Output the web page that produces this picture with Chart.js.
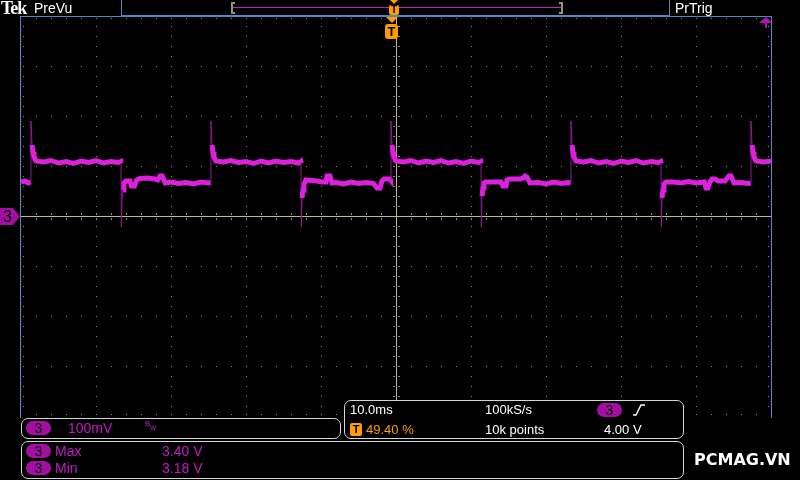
<!DOCTYPE html>
<html>
<head>
<meta charset="utf-8">
<script src="https://cdn.jsdelivr.net/npm/chart.js@4.4.1/dist/chart.umd.min.js"></script>
<style>
  body { margin: 0; background: #000; }
  #wrap { position: relative; width: 800px; height: 480px; overflow: hidden; background: #000; font-family: 'Liberation Sans', Arial, sans-serif; }
  #scope { position: absolute; left: 0; top: 0; }
  .t { position: absolute; white-space: nowrap; color: #fff; font-size: 14px; line-height: 16px; height: 16px; }
  .p { color: #c41cc4; }
  .o { color: #ff9c00; }
  .pill { position: absolute; width: 25px; height: 14px; border-radius: 7px; background: #a30fa3; color: #000; font-size: 14px; line-height: 14px; text-align: center; }
  .panel { position: absolute; border: 1px solid #d6d6d6; border-radius: 7px; background: #000; box-sizing: border-box; }
  .bline { position: absolute; background: #5088c8; }
</style>
</head>
<body>
<div id="wrap">
  <canvas id="scope" width="800" height="480"></canvas>

  <!-- top bar -->
  <div class="t" style="left:1px;top:-1px;font-family:'Liberation Serif',serif;font-weight:bold;font-size:18px;line-height:18px;letter-spacing:-1px;">Tek</div>
  <div class="t" style="left:34px;top:0px;font-size:14px;">PreVu</div>
  <div style="position:absolute;left:121px;top:0;width:549px;height:16px;border:1px solid #5088c8;border-top:none;box-sizing:border-box;"></div>
  <div style="position:absolute;left:233px;top:7px;width:328px;height:1px;background:#c020c0;"></div>
  <div style="position:absolute;left:231px;top:2px;height:12px;border:2px solid #9a9178;border-right:none;box-sizing:border-box;width:4px;"></div>
  <div style="position:absolute;left:559px;top:2px;height:12px;border:2px solid #9a9178;border-left:none;box-sizing:border-box;width:4px;"></div>
  <div style="position:absolute;left:390px;top:0;width:0;height:0;border-left:4px solid transparent;border-right:4px solid transparent;border-top:4px solid #ff9c00;"></div>
  <div style="position:absolute;left:389px;top:5px;width:10px;height:10px;border-radius:2px;background:#ff9c00;color:#000;font-size:10px;line-height:10px;text-align:center;font-weight:bold;">T</div>
  <div class="t" style="left:675px;top:0px;font-size:14px;">PrTrig</div>

  <!-- graticule frame -->
  <div class="bline" style="left:20px;top:16px;width:752px;height:1px;"></div>
  <div class="bline" style="left:20px;top:16px;width:1px;height:402px;"></div>
  <div class="bline" style="left:771px;top:16px;width:1px;height:402px;"></div>

  <!-- trigger position marker -->
  <div style="position:absolute;left:386px;top:17px;width:0;height:0;border-left:6px solid transparent;border-right:6px solid transparent;border-top:6px solid #ff9c00;"></div>
  <div style="position:absolute;left:385px;top:24px;width:13px;height:15px;border-radius:3px;background:#ff9c00;color:#000;font-size:13px;line-height:15px;text-align:center;font-weight:bold;">T</div>

  <!-- trigger level arrow -->
  <div style="position:absolute;left:759px;top:17px;width:0;height:0;border-left:7px solid transparent;border-right:7px solid transparent;border-bottom:6px solid #b014b0;"></div>
  <div style="position:absolute;left:765px;top:22px;width:2px;height:6px;background:#b014b0;"></div>

  <!-- channel 3 marker -->
  <div style="position:absolute;left:0;top:208px;width:20px;height:17px;background:#a30fa3;clip-path:polygon(0 0,65% 0,100% 50%,65% 100%,0 100%);"></div>
  <div class="t" style="left:3px;top:208px;color:#000;font-size:16px;line-height:17px;">3</div>

  <!-- channel panel -->
  <div class="panel" style="left:21px;top:418px;width:320px;height:21px;"></div>
  <div class="pill" style="left:26px;top:421px;">3</div>
  <div class="t p" style="left:68px;top:420px;">100mV</div>
  <div class="t p" style="left:145px;top:420px;font-size:8px;line-height:8px;">B<span style="position:relative;top:4px;">w</span></div>

  <!-- timebase panel -->
  <div class="panel" style="left:344px;top:400px;width:340px;height:39px;"></div>
  <div class="t" style="left:350px;top:402px;font-size:13px;">10.0ms</div>
  <div class="t" style="left:485px;top:402px;font-size:13px;">100kS/s</div>
  <div class="pill" style="left:597px;top:403px;">3</div>
  <svg style="position:absolute;left:632px;top:403px;" width="14" height="14"><polyline points="1,12 4,12 9,2 13,2" fill="none" stroke="#fff" stroke-width="1.4"/></svg>
  <div style="position:absolute;left:350px;top:423px;width:12px;height:13px;border-radius:2px;background:#ff9c00;color:#000;font-size:11px;line-height:13px;text-align:center;font-weight:bold;">T</div>
  <div class="t o" style="left:366px;top:422px;font-size:13px;">49.40 %</div>
  <div class="t" style="left:485px;top:422px;font-size:13px;">10k points</div>
  <div class="t" style="left:604px;top:422px;font-size:13px;">4.00 V</div>

  <!-- measurement panel -->
  <div class="panel" style="left:21px;top:441px;width:663px;height:38px;"></div>
  <div class="pill" style="left:26px;top:444px;">3</div>
  <div class="t p" style="left:55px;top:443px;">Max</div>
  <div class="t p" style="left:162px;top:443px;">3.40 V</div>
  <div class="pill" style="left:26px;top:461px;">3</div>
  <div class="t p" style="left:55px;top:460px;">Min</div>
  <div class="t p" style="left:162px;top:460px;">3.18 V</div>

  <div class="t" style="left:694px;top:450px;font-family:'DejaVu Sans',sans-serif;font-weight:bold;font-size:16px;line-height:20px;height:20px;">PCMAG.VN</div>
</div>

<script>
// Channel 3 trace (time in ms, level in volts)
const timeMs = [
  -50.00, -49.50, -49.00, -48.70, -48.67, -48.53, -48.40, -48.27, -48.00,
  -47.00, -46.00, -45.00, -44.00, -43.00, -42.00, -41.00, -40.00, -39.00, -38.00, -37.00, -36.70,
  -36.67, -36.62, -36.53, -36.40, -36.27, -36.00, -35.47, -35.27, -34.87, -34.57, -34.17, -33.17,
  -32.17, -31.77, -31.47, -31.17, -30.77, -30.00, -29.00, -28.00, -27.00, -26.00, -25.00, -24.70,
  -24.67, -24.53, -24.40, -24.27, -24.00,
  -23.00, -22.00, -21.00, -20.00, -19.00, -18.00, -17.00, -16.00, -15.00, -14.00, -13.00, -12.70,
  -12.67, -12.62, -12.53, -12.40, -12.27, -12.00, -10.50, -9.87, -9.33, -9.20, -8.80, -8.53,
  -8.00, -7.00, -6.00, -5.00, -4.00, -3.00, -2.53, -2.13, -1.87, -1.60, -0.80, -0.70,
  -0.67, -0.53, -0.40, -0.27, 0.00,
  1.00, 2.00, 3.00, 4.00, 5.00, 6.00, 7.00, 8.00, 9.00, 10.00, 11.00, 11.30,
  11.33, 11.38, 11.47, 11.60, 11.73, 12.00, 14.00, 14.27, 14.67, 14.80, 15.20, 16.53,
  16.93, 17.20, 17.47, 17.87, 19.00, 20.00, 21.00, 22.00, 23.00, 23.30,
  23.33, 23.47, 23.60, 23.73, 24.00,
  25.00, 26.00, 27.00, 28.00, 29.00, 30.00, 31.00, 32.00, 33.00, 34.00, 35.00, 35.30,
  35.33, 35.38, 35.47, 35.60, 35.73, 36.00, 37.00, 38.00, 39.00, 40.00, 41.10, 41.33,
  41.60, 41.87, 42.13, 42.53, 42.93, 43.87, 44.40, 44.67, 45.07, 46.00, 47.00, 47.30,
  47.33, 47.47, 47.60, 47.73, 48.00, 49.00, 50.00
];
const ch3Volts = [
  3.268, 3.270, 3.266, 3.268, 3.390, 3.342, 3.328, 3.318, 3.310,
  3.308, 3.311, 3.306, 3.309, 3.305, 3.310, 3.307, 3.311, 3.306, 3.309, 3.307, 3.309,
  3.306, 3.178, 3.232, 3.252, 3.266, 3.270, 3.270, 3.260, 3.260, 3.272, 3.275, 3.276,
  3.274, 3.272, 3.280, 3.280, 3.266, 3.268, 3.265, 3.267, 3.264, 3.268, 3.266, 3.267,
  3.390, 3.342, 3.328, 3.318, 3.310,
  3.308, 3.311, 3.307, 3.309, 3.305, 3.310, 3.306, 3.310, 3.307, 3.309, 3.306, 3.309,
  3.306, 3.178, 3.236, 3.252, 3.264, 3.272, 3.270, 3.268, 3.268, 3.280, 3.280, 3.266,
  3.267, 3.264, 3.268, 3.265, 3.267, 3.265, 3.256, 3.256, 3.270, 3.274, 3.274, 3.272,
  3.390, 3.342, 3.328, 3.318, 3.310,
  3.308, 3.311, 3.306, 3.310, 3.307, 3.311, 3.306, 3.309, 3.305, 3.310, 3.307, 3.309,
  3.306, 3.178, 3.240, 3.256, 3.266, 3.268, 3.268, 3.260, 3.260, 3.272, 3.274, 3.274,
  3.276, 3.280, 3.278, 3.266, 3.267, 3.264, 3.268, 3.265, 3.267, 3.266,
  3.390, 3.342, 3.328, 3.318, 3.310,
  3.308, 3.311, 3.306, 3.309, 3.305, 3.310, 3.307, 3.311, 3.306, 3.309, 3.307, 3.309,
  3.306, 3.178, 3.236, 3.252, 3.264, 3.268, 3.268, 3.266, 3.269, 3.266, 3.268, 3.256,
  3.256, 3.268, 3.274, 3.274, 3.270, 3.270, 3.280, 3.280, 3.266, 3.267, 3.265, 3.266,
  3.390, 3.342, 3.328, 3.318, 3.310, 3.308, 3.310
];

// graticule: 10 ms/div across, 100 mV/div up, centred on 3.20 V
const xDivs = [-50, -40, -30, -20, -10, 0, 10, 20, 30, 40, 50];
const yDivs = [2.8, 2.9, 3.0, 3.1, 3.2, 3.3, 3.4, 3.5, 3.6];
const xMinorStep = 2;
const yMinorStep = 0.02;

const xMin = xDivs[0], xMax = xDivs[xDivs.length - 1];
const yMin = yDivs[0], yMax = yDivs[yDivs.length - 1];
const xCentre = 0, yCentre = 3.2;

const points = timeMs.map((t, i) => ({ x: t, y: ch3Volts[i] }));

function steep(ctx) {
    const dy = Math.abs(ctx.p1.y - ctx.p0.y);
    const dx = Math.abs(ctx.p1.x - ctx.p0.x);
    return dy > 8 && dy > 2 * dx;
}

const graticule = {
    id: 'graticule',
    beforeDatasetsDraw(chart) {
        const { ctx, chartArea: a, scales: { x, y } } = chart;
        const nx = Math.round((xMax - xMin) / xMinorStep);
        const ny = Math.round((yMax - yMin) / yMinorStep);
        const px = v => Math.round(x.getPixelForValue(v));
        const py = v => Math.round(y.getPixelForValue(v));
        ctx.save();
        ctx.fillStyle = '#948c6e';

        // dotted division lines
        xDivs.forEach(v => {
            if (v === xMin || v === xMax || v === xCentre) return;
            for (let i = 1; i < ny; i++) ctx.fillRect(px(v), py(yMin + i * yMinorStep), 1, 1);
        });
        yDivs.forEach(v => {
            if (v === yMin || v === yMax || v === yCentre) return;
            for (let i = 1; i < nx; i++) ctx.fillRect(px(xMin + i * xMinorStep), py(v), 1, 1);
        });

        // edge ticks
        for (let i = 1; i < ny; i++) {
            const yy = py(yMin + i * yMinorStep);
            ctx.fillRect(a.left + 2, yy, 1, 1);
            ctx.fillRect(a.right - 3, yy, 1, 1);
        }
        for (let i = 1; i < nx; i++) {
            const xx = px(xMin + i * xMinorStep);
            ctx.fillRect(xx, a.top + 2, 1, 1);
            ctx.fillRect(xx, a.bottom - 2, 1, 1);
        }

        // centre cross with minor ticks
        const x0 = px(xCentre), y0 = py(yCentre);
        for (let i = 1; i < nx; i++) {
            const xx = px(xMin + i * xMinorStep);
            ctx.fillRect(xx, y0 - 3, 1, 2);
            ctx.fillRect(xx, y0 + 2, 1, 2);
        }
        for (let i = 1; i < ny; i++) {
            const yy = py(yMin + i * yMinorStep);
            ctx.fillRect(x0 - 3, yy, 2, 1);
            ctx.fillRect(x0 + 2, yy, 2, 1);
        }
        ctx.fillStyle = '#bdb497';
        ctx.fillRect(a.left, y0, a.right - a.left, 1);
        ctx.fillRect(x0, a.top, 1, a.bottom - a.top);
        ctx.restore();
    }
};

new Chart(document.getElementById('scope'), {
    type: 'line',
    data: {
        datasets: [{
            label: 'Ch3',
            data: points,
            borderColor: '#dc20dc',
            borderWidth: 5,
            pointRadius: 0,
            tension: 0,
            segment: {
                borderWidth: ctx => steep(ctx) ? 1 : 5,
                borderColor: ctx => steep(ctx) ? '#901a90' : '#dc20dc'
            }
        }]
    },
    options: {
        responsive: false,
        animation: false,
        events: [],
        layout: { padding: { left: 21, right: 29, top: 16, bottom: 64 } },
        scales: {
            x: { type: 'linear', min: xMin, max: xMax, display: false },
            y: { type: 'linear', min: yMin, max: yMax, display: false }
        },
        plugins: {
            legend: { display: false },
            tooltip: { enabled: false }
        }
    },
    plugins: [graticule]
});
</script>
</body>
</html>
